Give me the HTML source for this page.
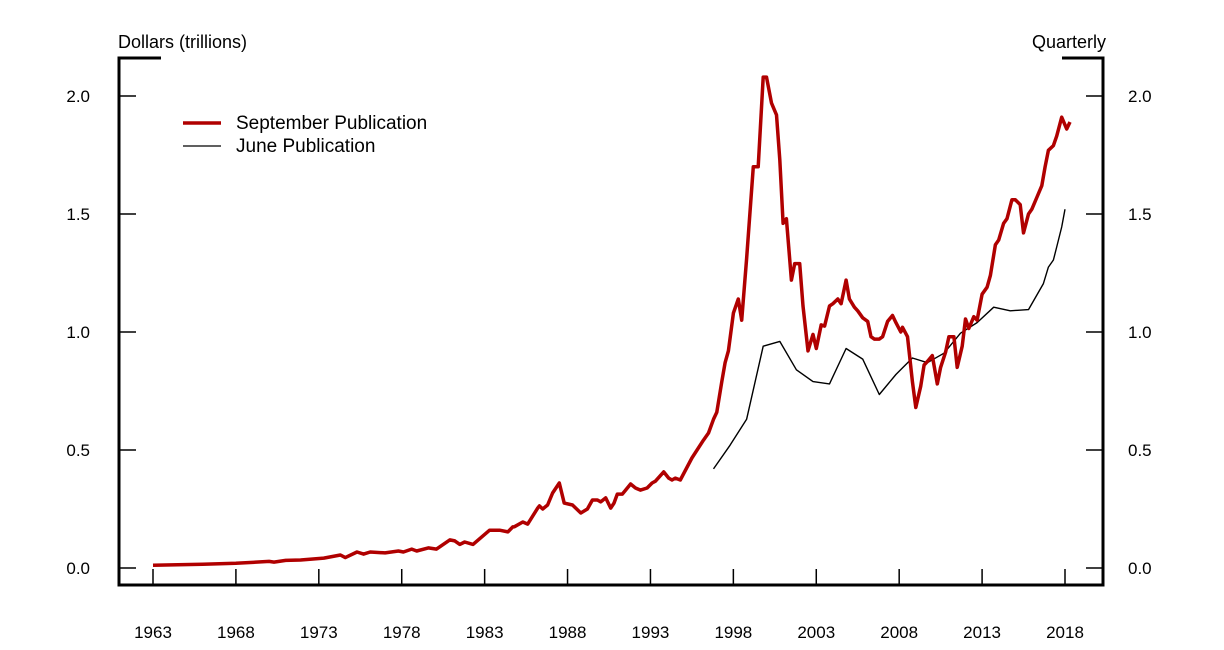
<!DOCTYPE html>
<html><head><meta charset="utf-8"><style>
html,body{margin:0;padding:0;background:#fff;}
svg{display:block;font-family:"Liberation Sans",Arial,sans-serif;}
</style></head><body>
<svg id="chart" width="1224" height="650" viewBox="0 0 1224 650">
<g id="axes"></g>
<g id="series"></g>
<text x="118" y="48" font-size="18">Dollars (trillions)</text>
<text x="1106" y="48" font-size="18" text-anchor="end">Quarterly</text>
<g>
<line x1="183" y1="123" x2="221" y2="123" stroke="#b00000" stroke-width="3.5"/>
<text x="236" y="129" font-size="19">September Publication</text>
<line x1="183" y1="146" x2="221" y2="146" stroke="#000" stroke-width="1.3"/>
<text x="236" y="152" font-size="19">June Publication</text>
</g>
</svg>
<script>
const yTicks=[0,0.5,1.0,1.5,2.0];
const yTickLabels=["0.0","0.5","1.0","1.5","2.0"];
const xTicks=[1963,1968,1973,1978,1983,1988,1993,1998,2003,2008,2013,2018];
const septYears=[1963,1966,1968,1970,1970.3,1971,1971.9,1973.3,1974.3,1974.6,1975.3,1975.7,1976.1,1977,1977.8,1978.1,1978.6,1978.9,1979.6,1980.1,1980.9,1981.2,1981.5,1981.8,1982.3,1982.8,1983.3,1983.9,1984.4,1984.7,1984.8,1985.3,1985.6,1986.2,1986.3,1986.5,1986.8,1987.1,1987.5,1987.8,1988.3,1988.8,1989.2,1989.5,1989.8,1990,1990.3,1990.6,1990.8,1991,1991.3,1991.5,1991.8,1992.1,1992.4,1992.8,1993.1,1993.3,1993.8,1994.1,1994.3,1994.5,1994.8,1995.5,1996.2,1996.5,1996.8,1997,1997.3,1997.5,1997.7,1998,1998.3,1998.5,1998.8,1999.2,1999.5,1999.8,2000,2000.3,2000.6,2000.8,2001,2001.2,2001.5,2001.7,2002,2002.2,2002.5,2002.8,2003,2003.3,2003.5,2003.8,2004,2004.3,2004.5,2004.8,2005,2005.3,2005.5,2005.8,2006.1,2006.3,2006.5,2006.8,2007,2007.3,2007.6,2007.8,2008.1,2008.2,2008.5,2008.8,2009,2009.3,2009.5,2009.7,2010,2010.3,2010.5,2010.8,2011,2011.3,2011.5,2011.8,2012,2012.2,2012.5,2012.7,2013,2013.3,2013.5,2013.8,2014,2014.3,2014.5,2014.8,2015,2015.3,2015.5,2015.8,2016,2016.3,2016.6,2016.8,2017,2017.3,2017.5,2017.8,2018.1,2018.3];
const septValues=[0.012,0.016,0.02,0.028,0.025,0.032,0.034,0.042,0.055,0.044,0.068,0.059,0.068,0.064,0.072,0.068,0.08,0.072,0.085,0.08,0.119,0.115,0.10,0.11,0.10,0.13,0.16,0.16,0.153,0.174,0.175,0.195,0.186,0.254,0.263,0.25,0.267,0.318,0.36,0.275,0.267,0.233,0.25,0.288,0.288,0.28,0.297,0.254,0.275,0.313,0.313,0.33,0.356,0.339,0.33,0.339,0.36,0.368,0.407,0.381,0.373,0.381,0.373,0.466,0.542,0.572,0.63,0.66,0.79,0.87,0.92,1.08,1.14,1.05,1.31,1.70,1.70,2.08,2.08,1.97,1.92,1.73,1.46,1.48,1.22,1.29,1.29,1.11,0.92,0.99,0.93,1.03,1.025,1.11,1.12,1.14,1.12,1.22,1.14,1.105,1.09,1.06,1.045,0.98,0.97,0.97,0.98,1.045,1.07,1.04,1.00,1.02,0.98,0.79,0.68,0.77,0.86,0.875,0.90,0.78,0.85,0.915,0.98,0.98,0.85,0.94,1.055,1.015,1.065,1.05,1.16,1.19,1.24,1.37,1.39,1.46,1.48,1.56,1.56,1.54,1.42,1.50,1.52,1.57,1.62,1.70,1.77,1.79,1.83,1.91,1.86,1.89];
const juneYears=[1996.8,1997.8,1998.8,1999.8,2000.8,2001.8,2002.8,2003.8,2004.8,2005.8,2006.8,2007.8,2008.8,2009.7,2010.7,2011.7,2012.7,2013.7,2014.7,2015.8,2016.7,2017,2017.3,2017.5,2017.8,2018];
const juneValues=[0.42,0.52,0.63,0.94,0.96,0.84,0.79,0.78,0.93,0.885,0.735,0.82,0.89,0.87,0.91,0.995,1.04,1.105,1.09,1.095,1.205,1.275,1.305,1.36,1.445,1.52];

const NS="http://www.w3.org/2000/svg";
const X0=119,X1=1103,YT=58,YB=585;
function xs(yr){return 153+(yr-1963)*(1065-153)/55;}
function ys(v){return 568-v*236;}
function mk(tag,attrs,parent){const e=document.createElementNS(NS,tag);for(const k in attrs)e.setAttribute(k,attrs[k]);parent.appendChild(e);return e;}
const ax=document.getElementById('axes');
let e;
e=mk('path',{d:`M161 ${YT} H${X0} V${YB} H${X1} V${YT} H1062`,fill:'none',stroke:'#000','stroke-width':3},ax);


yTicks.forEach((v,i)=>{
  const y=ys(v);
  e=mk('line',{x1:X0,y1:y,x2:X0+17,y2:y,stroke:'#000','stroke-width':1.5},ax);
  
  
  e=mk('line',{x1:X1-17,y1:y,x2:X1,y2:y,stroke:'#000','stroke-width':1.5},ax);
  
  
  e=mk('text',{x:90,y:y+6,'font-size':17,'text-anchor':'end'},ax);e.textContent=yTickLabels[i];
  
  
  e=mk('text',{x:1128,y:y+6,'font-size':17},ax);e.textContent=yTickLabels[i];
  
  
});
xTicks.forEach(t=>{
  const x=xs(t);
  e=mk('line',{x1:x,y1:569,x2:x,y2:YB,stroke:'#000','stroke-width':1.5},ax);
  
  
  e=mk('text',{x:x,y:638,'font-size':17,'text-anchor':'middle'},ax);e.textContent=String(t);
  
  
});
const sg=document.getElementById('series');
function pts(xa,va){return xa.map((x,i)=>xs(x).toFixed(1)+','+ys(va[i]).toFixed(1)).join(' ');}
e=mk('polyline',{points:pts(juneYears,juneValues),fill:'none',stroke:'#000','stroke-width':1.4,'stroke-linejoin':'round'},sg);


e=mk('polyline',{points:pts(septYears,septValues),fill:'none',stroke:'#b00000','stroke-width':3.5,'stroke-linejoin':'round'},sg);


</script>
</body></html>
